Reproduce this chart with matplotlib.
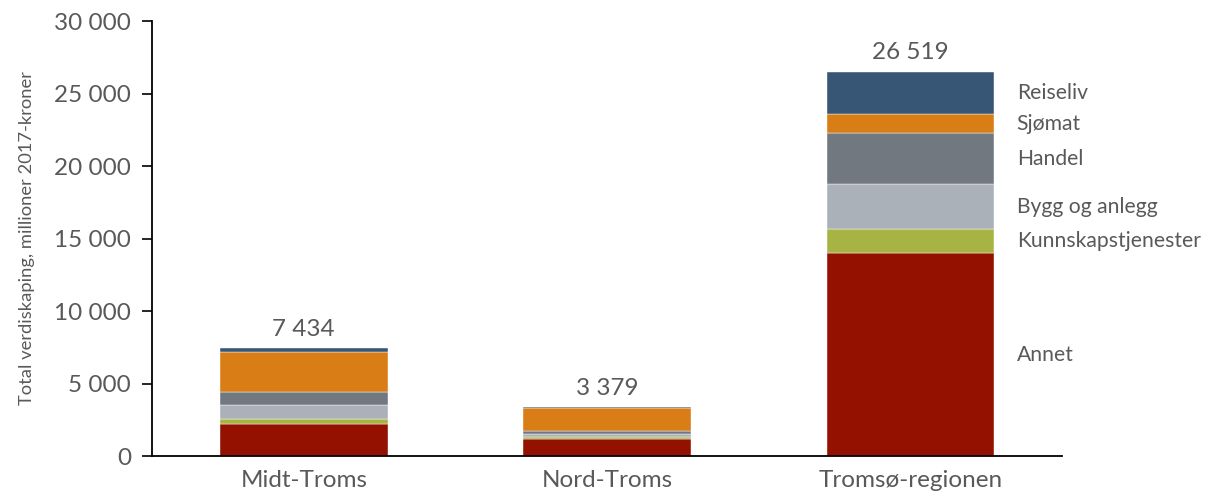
import matplotlib.pyplot as plt
import numpy as np

plt.rcParams['font.family'] = ['Lato', 'DejaVu Sans']

# Data (millioner 2017-kroner)
regions = ["Midt-Troms", "Nord-Troms", "Tromsø-regionen"]
sectors = ["Annet", "Kunnskapstjenester", "Bygg og anlegg", "Handel", "Sjømat", "Reiseliv"]
annet = [2214, 1154, 14000]
kunnskap = [320, 140, 1660]
bygg = [970, 250, 3080]
handel = [890, 200, 3520]
sjomat = [2760, 1585, 1330]
reiseliv = [280, 50, 2929]
totals = [7434, 3379, 26519]

colors = ["#941100", "#A7B443", "#AAB1B8", "#71787F", "#D97D17", "#375574"]
text_col = "#595959"

series = [annet, kunnskap, bygg, handel, sjomat, reiseliv]

fig = plt.figure(figsize=(12.07, 4.96), dpi=100)
ax = fig.add_axes([0.126, 0.0806, 0.754, 0.877])

x = np.arange(len(regions))
bottom = np.zeros(len(regions))
for name, vals, c in zip(sectors, series, colors):
    ax.bar(x, vals, width=0.553, bottom=bottom, color=c, label=name,
           edgecolor="white", linewidth=0.3)
    bottom += np.array(vals)

# Totals above bars
for xi, t in zip(x, totals):
    ax.annotate(f"{t:,}".replace(",", " "), (xi, t), xytext=(0, 6),
                textcoords="offset points", ha="center", va="bottom",
                fontsize=17.5, color=text_col)

# Sector labels next to the last bar
cum = 0
for name, vals in zip(sectors, series):
    mid = cum + vals[2] / 2
    cum += vals[2]
    ax.text(2.35, mid, name, ha="left", va="center", fontsize=15.2, color=text_col)

ax.set_xlim(-0.5, 2.5)
ax.set_ylim(0, 30000)
ax.set_yticks(range(0, 30001, 5000))
ax.set_yticklabels([f"{v:,}".replace(",", " ") for v in range(0, 30001, 5000)])
ax.set_xticks(x)
ax.set_xticklabels(regions)
ax.tick_params(axis="y", labelsize=17.5, labelcolor=text_col, length=7, width=1.2,
               direction="out", pad=8)
ax.tick_params(axis="x", labelsize=17.5, labelcolor=text_col, length=0, pad=10)
ax.set_ylabel("Total verdiskaping, millioner 2017-kroner", fontsize=13.2,
              color=text_col, labelpad=14)

for s in ["top", "right"]:
    ax.spines[s].set_visible(False)
ax.spines["left"].set_linewidth(1.3)
ax.spines["bottom"].set_linewidth(1.3)

plt.savefig("out.png", dpi=100)
